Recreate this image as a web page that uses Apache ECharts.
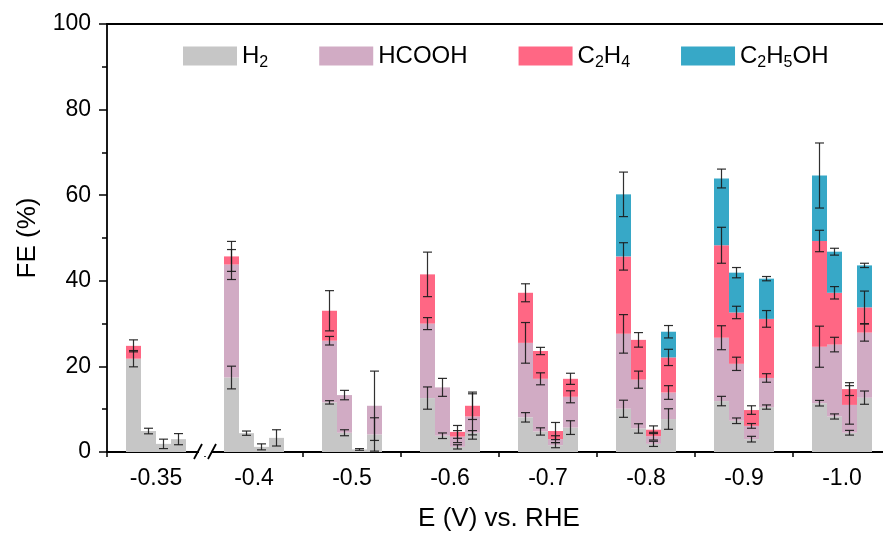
<!DOCTYPE html>
<html lang="en">
<head>
  <meta charset="UTF-8">
  <title>FE vs potential</title>
  <script src="https://cdn.jsdelivr.net/npm/echarts@6/dist/echarts.min.js"></script>
  <style>
    html, body { margin: 0; padding: 0; background: #fff; }
    #main { width: 883px; height: 536px; }
  </style>
</head>
<body>
<div id="main"></div>
<script>
  // x categories and products
  var potentials = ['-0.35', '-0.4', '-0.5', '-0.6', '-0.7', '-0.8', '-0.9', '-1.0'];
  var products = ['H2', 'HCOOH', 'C2H4', 'C2H5OH'];

  // FE (%) of each product, per potential: 4 bars per group
  var h2 = [
    [21.8, 4.9, 1.9, 3.0], [17.4, 4.4, 1.2, 3.3], [11.6, 4.5, 0.6, 4.1], [12.6, 3.8, 1.2, 4.5],
    [8.1, 4.8, 1.6, 5.7], [10.1, 5.5, 1.9, 7.7], [11.9, 7.3, 3.0, 10.5], [11.4, 8.3, 4.5, 12.7]
  ];
  var hcooh = [
    [0, 0, 0, 0], [26.4, 0, 0, 0], [14.4, 8.8, 0, 6.7], [17.4, 11.3, 2.4, 3.8],
    [17.4, 12.3, 1.4, 7.2], [17.5, 11.4, 1.8, 6.2], [14.8, 13.3, 3.1, 6.8], [13.2, 16.8, 6.5, 15.2]
  ];
  var c2h4 = [
    [3.0, 0, 0, 0], [1.9, 0, 0, 0], [7.0, 0, 0, 0], [11.5, 0, 1.1, 2.5],
    [11.7, 6.5, 1.9, 4.2], [18.1, 9.3, 1.5, 8.2], [21.6, 12.0, 3.7, 13.8], [24.7, 12.1, 3.7, 5.9]
  ];
  var c2h5oh = [
    [0, 0, 0, 0], [0, 0, 0, 0], [0, 0, 0, 0], [0, 0, 0, 0],
    [0, 0, 0, 0], [14.5, 0, 0, 6.0], [15.6, 9.3, 0, 9.4], [15.3, 9.6, 0, 9.8]
  ];

  // error bars (+/-) for each segment
  var h2Err = [
    [1.9, 0.65, 1.1, 1.3], [2.65, 0.5, 0.7, 1.9], [0.4, 0.7, 0.2, 3.9], [2.6, 0.65, 0.5, 0.5],
    [1.1, 0.85, 0.6, 1.6], [2.0, 1.1, 0.6, 2.4], [1.1, 0.65, 0.66, 0.5], [0.65, 0.6, 0.55, 1.55]
  ];
  var hcoohErr = [
    [0, 0, 0, 0], [3.5, 0, 0, 0], [1.0, 1.1, 0, 8.1], [1.4, 2.1, 1.4, 5.3],
    [4.75, 1.4, 0.8, 1.4], [4.5, 2.0, 0.9, 1.6], [2.8, 1.55, 0.55, 1.0], [4.8, 1.7, 4.5, 2.0]
  ];
  var c2h4Err = [
    [1.4, 0, 0, 0], [3.5, 0, 0, 0], [4.7, 0, 0, 0], [5.2, 0, 1.5, 3.2],
    [2.1, 0.85, 2.0, 1.3], [3.2, 1.7, 0.9, 1.9], [4.2, 1.45, 1.0, 1.95], [2.5, 1.45, 1.5, 3.8]
  ];
  var c2h5ohErr = [
    [0, 0, 0, 0], [0, 0, 0, 0], [0, 0, 0, 0], [0, 0, 0, 0],
    [0, 0, 0, 0], [5.2, 0, 0, 1.45], [2.2, 1.2, 0, 0.5], [7.6, 0.8, 0, 0.5]
  ];

  var fe = [h2, hcooh, c2h4, c2h5oh];
  var feErr = [h2Err, hcoohErr, c2h4Err, c2h5ohErr];
  var colors = ['#c6c6c6', '#d1abc4', '#ff6784', '#37a8c7'];

  var FONT = '"Liberation Sans", Arial, sans-serif';
  var GRID_LEFT = 107, GRID_TOP = 24, BAND = 98, BAR_W = 15;

  var series = [];
  products.forEach(function (name, k) {
    for (var b = 0; b < 4; b++) {
      series.push({
        type: 'bar',
        name: name,
        stack: 'bar' + b,
        barWidth: BAR_W,
        barGap: '0%',
        itemStyle: { color: colors[k] },
        emphasis: { disabled: true },
        data: fe[k].map(function (row) { return row[b]; })
      });
    }
  });

  // error bars sit on the top of every stacked segment
  var errItems = [];
  products.forEach(function (name, k) {
    potentials.forEach(function (p, i) {
      for (var b = 0; b < 4; b++) {
        if (!fe[k][i][b]) continue;
        var top = 0;
        for (var q = 0; q <= k; q++) top += fe[q][i][b];
        errItems.push([i, b, top, feErr[k][i][b]]);
      }
    });
  });

  series.push({
    type: 'custom',
    z: 10,
    silent: true,
    encode: { x: 0, y: 2 },
    data: errItems,
    renderItem: function (params, api) {
      var i = api.value(0), b = api.value(1), top = api.value(2), e = api.value(3);
      var x = api.coord([i, top])[0] + (b - 1.5) * BAR_W;
      var yHi = api.coord([i, top + e])[1];
      var yLo = api.coord([i, top - e])[1];
      var st = { stroke: '#1a1a1a', lineWidth: 1.2, opacity: 0.9 };
      return {
        type: 'group',
        children: [
          { type: 'line', shape: { x1: x, y1: yHi, x2: x, y2: yLo }, style: st },
          { type: 'line', shape: { x1: x - 4.5, y1: yHi, x2: x + 4.5, y2: yHi }, style: st },
          { type: 'line', shape: { x1: x - 4.5, y1: yLo, x2: x + 4.5, y2: yLo }, style: st }
        ]
      };
    }
  });

  function legendText(name) {
    return name.replace(/([A-Z]+)/g, '{m|$1}').replace(/(\d)/g, '{s|$1}');
  }

  var axisLineStyle = { color: '#000', width: 1.8 };
  var breakX = GRID_LEFT + BAND;

  var option = {
    animation: false,
    backgroundColor: '#fff',
    grid: { left: GRID_LEFT, top: GRID_TOP, width: BAND * potentials.length, height: 428, outerBoundsMode: 'none' },
    legend: {
      data: products,
      left: 178,
      top: 39,
      icon: 'rect',
      itemWidth: 54,
      itemHeight: 19,
      itemGap: 51,
      selectedMode: false,
      formatter: legendText,
      textStyle: {
        fontFamily: FONT,
        fontSize: 24,
        color: '#000',
        rich: {
          m: { fontFamily: FONT, fontSize: 24, color: '#000' },
          s: { fontFamily: FONT, fontSize: 16, color: '#000', padding: [14, 0, 0, 0] }
        }
      }
    },
    xAxis: [
      {
        type: 'category',
        data: potentials,
        position: 'bottom',
        axisLine: { lineStyle: axisLineStyle },
        axisTick: { alignWithLabel: true, length: 7, lineStyle: { color: '#000', width: 1.5 } },
        axisLabel: { fontFamily: FONT, fontSize: 23, color: '#000', margin: 15 },
        name: 'E (V) vs. RHE',
        nameLocation: 'middle',
        nameGap: 54,
        nameTextStyle: { fontFamily: FONT, fontSize: 26, color: '#000' }
      },
      {
        // minor ticks between the potentials
        type: 'category',
        data: potentials,
        position: 'bottom',
        axisLine: { show: true, lineStyle: axisLineStyle },
        axisTick: { show: true, length: 5, lineStyle: { color: '#000', width: 1.5 } },
        axisLabel: { show: false }
      },
      {
        type: 'category',
        data: potentials,
        position: 'top',
        axisLine: { onZero: false, lineStyle: axisLineStyle },
        axisTick: { show: false },
        axisLabel: { show: false }
      }
    ],
    yAxis: {
      type: 'value',
      min: 0,
      max: 100,
      interval: 20,
      axisLine: { show: true, lineStyle: axisLineStyle },
      axisTick: { show: true, length: 8, lineStyle: { color: '#000', width: 1.5 } },
      minorTick: { show: true, splitNumber: 2, length: 5, lineStyle: { color: '#000', width: 1.5 } },
      splitLine: { show: false },
      axisLabel: { fontFamily: FONT, fontSize: 23, color: '#000', margin: 16 },
      name: 'FE (%)',
      nameLocation: 'middle',
      nameGap: 66,
      nameTextStyle: { fontFamily: FONT, fontSize: 26, color: '#000' }
    },
    graphic: [
      // axis break between -0.35 and -0.4
      { type: 'rect', z: 100, shape: { x: breakX - 6, y: GRID_TOP + 424, width: 12, height: 8 }, style: { fill: '#fff' } },
      { type: 'line', z: 101, shape: { x1: breakX - 11, y1: GRID_TOP + 435, x2: breakX - 3, y2: GRID_TOP + 420 }, style: { stroke: '#000', lineWidth: 1.8 } },
      { type: 'line', z: 101, shape: { x1: breakX + 3, y1: GRID_TOP + 435, x2: breakX + 11, y2: GRID_TOP + 420 }, style: { stroke: '#000', lineWidth: 1.8 } }
    ],
    series: series
  };

  var chart = echarts.init(document.getElementById('main'));
  chart.setOption(option);
</script>
</body>
</html>
